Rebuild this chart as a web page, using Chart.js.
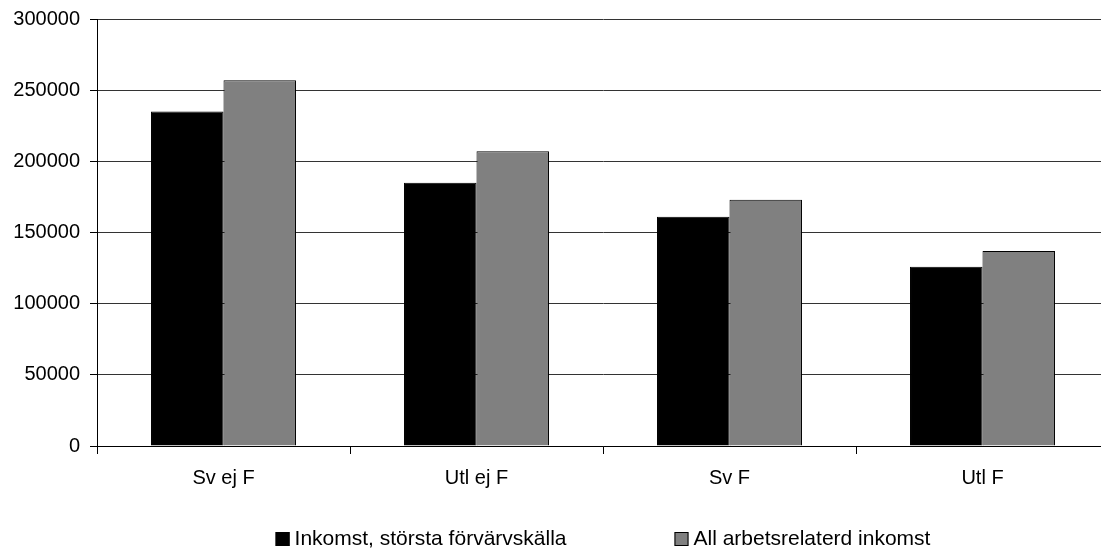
<!DOCTYPE html>
<html>
<head>
<meta charset="utf-8">
<script src="https://cdn.jsdelivr.net/npm/chart.js@4/dist/chart.umd.min.js"></script>
<style>
  html, body { margin: 0; padding: 0; background: #fff; overflow: hidden; }
  #wrap { width: 1110px; height: 550px; }
</style>
</head>
<body>
<div id="wrap"><canvas id="chart"></canvas></div>
<script>
var categories = ['Sv ej F', 'Utl ej F', 'Sv F', 'Utl F'];
var seriesNames = ['Inkomst, största förvärvskälla', 'All arbetsrelaterd inkomst'];
var storstaKalla = [235000, 185000, 161000, 126000];
var allArbete = [257000, 207000, 173000, 137000];
var yTicks = [0, 50000, 100000, 150000, 200000, 250000, 300000];

var FONT = 'Arial, "Liberation Sans", sans-serif';

// legend drawn by hand so the spacing matches the old excel look
var manualLegend = {
    id: 'manualLegend',
    afterDraw: function (chart) {
        var ctx = chart.ctx;
        var area = chart.chartArea;
        var box = 14, gapText = 5, gapItem = 108;
        ctx.save();
        ctx.font = '21px ' + FONT;
        var widths = chart.data.datasets.map(function (ds) { return ctx.measureText(ds.label).width; });
        var total = 0;
        widths.forEach(function (w, i) { total += box + gapText + w + (i > 0 ? gapItem : 0); });
        var x = (area.left + area.right) / 2 - total / 2;
        var y = 539;
        chart.data.datasets.forEach(function (ds, i) {
            ctx.fillStyle = ds.backgroundColor;
            ctx.fillRect(x, y - box / 2, box, box);
            ctx.strokeStyle = '#000';
            ctx.lineWidth = 1;
            ctx.strokeRect(x + 0.5, y - box / 2 + 0.5, box - 1, box - 1);
            ctx.fillStyle = '#000';
            ctx.textBaseline = 'middle';
            ctx.textAlign = 'left';
            ctx.fillText(ds.label, x + box + gapText, y);
            x += box + gapText + widths[i] + gapItem;
        });
        ctx.restore();
    }
};

new Chart(document.getElementById('chart').getContext('2d'), {
    type: 'bar',
    data: {
        labels: categories,
        datasets: [{
            label: seriesNames[0],
            data: storstaKalla,
            backgroundColor: '#000000',
            borderColor: '#000000',
            borderWidth: 1
        }, {
            label: seriesNames[1],
            data: allArbete,
            backgroundColor: '#808080',
            borderColor: '#000000',
            borderWidth: 1
        }]
    },
    options: {
        responsive: true,
        maintainAspectRatio: false,
        animation: false,
        layout: { padding: { top: 19, right: 1, left: 0, bottom: 0 } },
        datasets: { bar: { categoryPercentage: 0.573, barPercentage: 1 } },
        plugins: {
            legend: { display: false },
            tooltip: { enabled: false }
        },
        scales: {
            x: {
                afterFit: function (s) { s.height = 104; },
                grid: { drawOnChartArea: false, drawTicks: true, tickLength: 8, color: '#000', offset: true },
                border: { color: '#000', width: 1 },
                ticks: { color: '#000', font: { family: FONT, size: 20 }, padding: 12, maxRotation: 0 }
            },
            y: {
                min: 0,
                max: 300000,
                afterFit: function (s) { s.width = 97; s.paddingTop = 0; s.paddingBottom = 0; },
                afterBuildTicks: function (s) { s.ticks = yTicks.map(function (v) { return { value: v }; }); },
                grid: { color: '#333', drawTicks: true, tickLength: 7, tickColor: '#000' },
                border: { color: '#000', width: 1 },
                ticks: {
                    color: '#000', font: { family: FONT, size: 20 }, padding: 10,
                    callback: function (v) { return String(v); }
                }
            }
        }
    },
    plugins: [manualLegend]
});
</script>
</body>
</html>
